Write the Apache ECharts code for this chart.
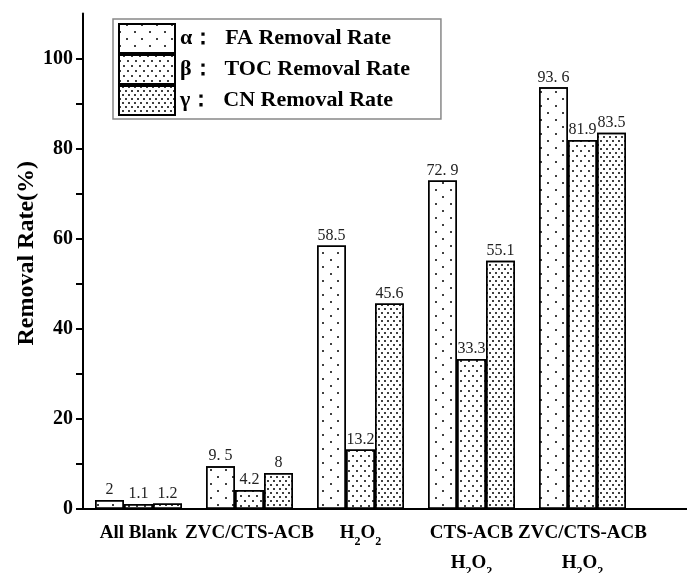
<!DOCTYPE html>
<html>
<head>
<meta charset="utf-8">
<script src="https://cdn.jsdelivr.net/npm/echarts@6/dist/echarts.min.js"></script>
<style>
  html, body { margin: 0; padding: 0; background: #fff; }
  #chart { width: 687px; height: 573px; }
</style>
</head>
<body>
<div id="chart"></div>
<script>
const categories = ['All Blank', 'ZVC/CTS-ACB', 'H2O2', 'CTS-ACB\nH2O2', 'ZVC/CTS-ACB\nH2O2']
const faRate = [2, 9.5, 58.5, 72.9, 93.6]
const tocRate = [1.1, 4.2, 13.2, 33.3, 81.9]
const cnRate = [1.2, 8, 45.6, 55.1, 83.5]
// bar labels as printed in the figure
const faText = ['2', '9. 5', '58.5', '72. 9', '93. 6']
const tocText = ['1.1', '4.2', '13.2', '33.3', '81.9']
const cnText = ['1.2', '8', '45.6', '55.1', '83.5']
const seriesNames = ['α：  FA Removal Rate', 'β：  TOC Removal Rate', 'γ：  CN Removal Rate']
const yTickValues = [0, 10, 20, 30, 40, 50, 60, 70, 80, 90, 100]
const yLabelValues = [0, 20, 40, 60, 80, 100]

const serif = "'Liberation Serif', 'Times New Roman', serif"

const chart = echarts.init(document.getElementById('chart'))

const dotDecal = (dashX, dashY) => ({
  symbol: 'circle',
  symbolSize: 1,
  color: '#000',
  dashArrayX: dashX,
  dashArrayY: dashY
})

const decals = [
  dotDecal([[2, 13], [0, 7, 2, 6]], [2, 5]),
  dotDecal([[2, 6], [0, 4, 2, 2]], [2, 3]),
  dotDecal([[2, 4], [0, 3, 2, 1]], [2, 2])
]

const makeSeries = (i, values, texts) => ({
  name: seriesNames[i],
  type: 'bar',
  xAxisIndex: 0,
  yAxisIndex: 0,
  data: values,
  barWidth: 29,
  barGap: '0%',
  itemStyle: {
    color: '#fff',
    borderColor: '#000',
    borderWidth: 1.5,
    decal: decals[i]
  },
  label: {
    show: true,
    position: 'top',
    distance: 2,
    color: '#222',
    fontFamily: serif,
    fontSize: 16,
    formatter: p => texts[p.dataIndex]
  }
})

const option = {
  animation: false,
  backgroundColor: '#fff',
  grid: [
    { left: 83, right: 49, top: 13.5, bottom: 64, outerBoundsMode: 'none' },
    { left: 83, right: -5, top: 13.5, bottom: 64, outerBoundsMode: 'none' }
  ],
  legend: {
    orient: 'vertical',
    left: 113,
    top: 19,
    padding: [4, 31, 3, 5],
    icon: 'rect',
    itemWidth: 56,
    itemHeight: 29,
    itemGap: 0,
    borderColor: '#888',
    borderWidth: 1.5,
    textStyle: { fontFamily: serif, fontSize: 22, fontWeight: 'bold', color: '#000' },
    data: seriesNames
  },
  xAxis: [
    {
      type: 'category',
      gridIndex: 0,
      data: categories,
      axisLine: { lineStyle: { color: '#000', width: 2 } },
      axisTick: { show: false },
      axisLabel: {
        interval: 0,
        margin: 9,
        color: '#000',
        fontFamily: serif,
        fontSize: 19,
        fontWeight: 'bold',
        lineHeight: 30,
        formatter: v => v.replace(/H2O2/g, 'H{sub|2}O{sub|2}'),
        rich: {
          sub: { fontFamily: serif, fontSize: 12, fontWeight: 'bold', color: '#000', verticalAlign: 'bottom', lineHeight: 20 }
        }
      }
    },
    {
      type: 'value',
      gridIndex: 1,
      axisLine: { show: true, onZero: false, lineStyle: { color: '#000', width: 2 } },
      axisTick: { show: false },
      axisLabel: { show: false },
      splitLine: { show: false }
    }
  ],
  yAxis: [
    {
      type: 'value',
      gridIndex: 0,
      min: 0,
      max: 110,
      interval: 10,
      name: 'Removal Rate(%)',
      nameLocation: 'middle',
      nameGap: 44,
      nameMoveOverlap: false,
      nameTextStyle: { fontFamily: serif, fontSize: 24, fontWeight: 'bold', color: '#000', padding: [0, 0, 0, 16] },
      axisLine: { show: true, lineStyle: { color: '#000', width: 2 } },
      axisTick: { show: true, length: 7, customValues: yTickValues, lineStyle: { color: '#000', width: 2 } },
      axisLabel: {
        margin: 10,
        color: '#000',
        fontFamily: serif,
        fontSize: 20,
        fontWeight: 'bold',
        customValues: yLabelValues
      },
      splitLine: { show: false }
    },
    {
      type: 'value',
      gridIndex: 1,
      show: false
    }
  ],
  series: [
    makeSeries(0, faRate, faText),
    makeSeries(1, tocRate, tocText),
    makeSeries(2, cnRate, cnText)
  ]
}

chart.setOption(option)
</script>
</body>
</html>
